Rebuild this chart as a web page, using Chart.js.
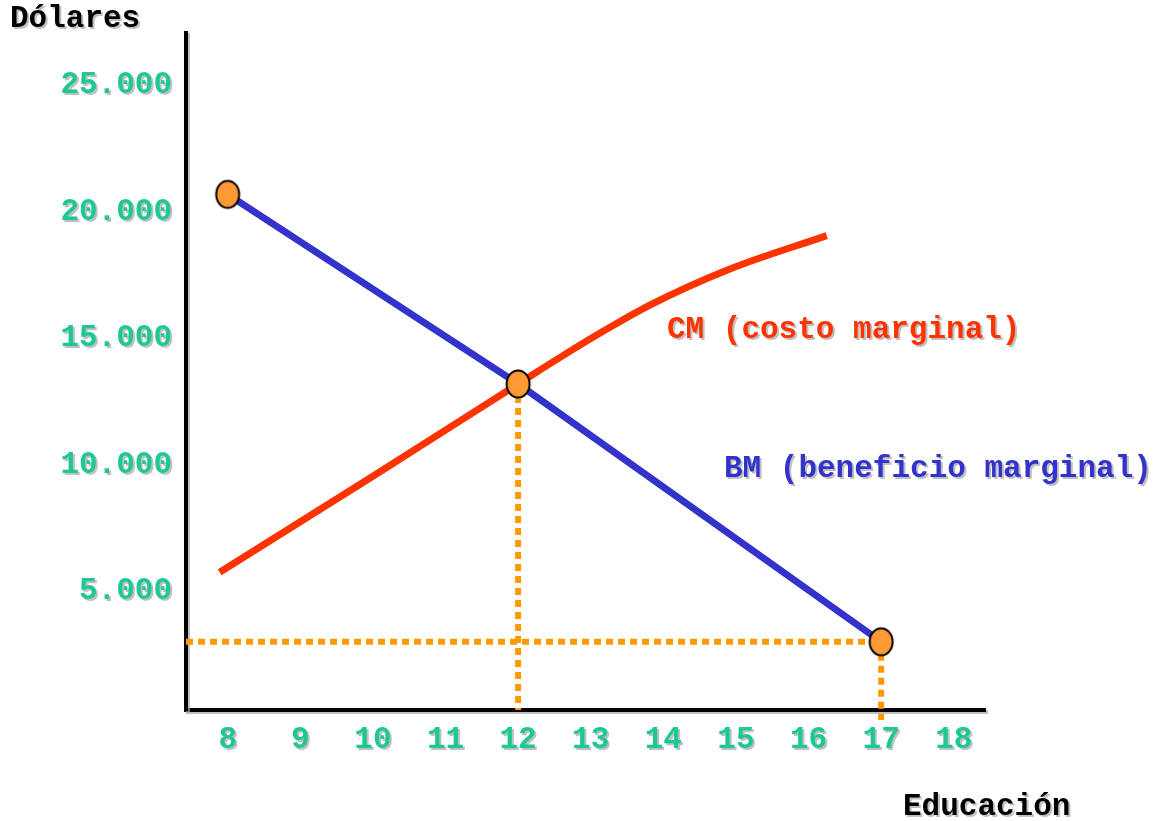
<!DOCTYPE html>
<html lang="es">
<head>
<meta charset="utf-8">
<title>Educación: costo y beneficio marginal</title>
<script src="https://cdn.jsdelivr.net/npm/chart.js@4.4.1/dist/chart.umd.min.js"></script>
<style>
  html, body { margin: 0; padding: 0; background: #ffffff; }
  #wrap { width: 1166px; height: 821px; }
</style>
</head>
<body>
<div id="wrap"><canvas id="chart" width="1166" height="821"></canvas></div>
<script>
// Años de educación y valores en dólares
const bmX = [8, 12, 17];                 // beneficio marginal (recta)
const bmY = [20700, 13200, 3000];
const cmX = [7.89, 10, 12, 12.6, 13.2, 13.8, 14.9, 16.25];   // costo marginal (curva)
const cmY = [5750, 9550, 13200, 14290, 15330, 16300, 17730, 19070];
const xTickValues = [8, 9, 10, 11, 12, 13, 14, 15, 16, 17, 18];
const yTickValues = [5000, 10000, 15000, 20000, 25000];
const yTickLabels = ['5.000', '10.000', '15.000', '20.000', '25.000'];

const xMin = 7.426, xMax = 18.43;
const yMin = 300, yMax = 27100;

const FONT = "'Liberation Mono', 'Courier New', monospace";
const GREEN = '#1DC894';
const RED = '#FF3300';
const BLUE = '#3333CC';
const ORANGE = '#FF9900';

// Equilibrio (intersección) y punto final del beneficio marginal
const eqX = bmX[1], eqY = bmY[1];
const endX = bmX[2], endY = bmY[2];

// Marcador ovalado naranja con borde negro
function makeMarker() {
  const c = document.createElement('canvas');
  c.width = 28; c.height = 32;
  const g = c.getContext('2d');
  g.beginPath();
  g.ellipse(14, 16, 11.5, 13.5, 0, 0, Math.PI * 2);
  g.fillStyle = '#FF9933';
  g.fill();
  g.lineWidth = 2;
  g.strokeStyle = '#000000';
  g.stroke();
  return c;
}
const marker = makeMarker();

const pts = (xs, ys) => xs.map((x, i) => ({ x: x, y: ys[i] }));

const dotted = {
  borderColor: ORANGE,
  borderWidth: 6,
  borderDash: [7, 5],
  borderCapStyle: 'butt',
  pointRadius: 0,
  showLine: true,
  fill: false,
  order: 3
};

// Sombra gris de los textos y ejes
function setShadow(ctx) {
  ctx.shadowColor = 'rgba(165,165,165,0.7)';
  ctx.shadowOffsetX = 2;
  ctx.shadowOffsetY = 2;
  ctx.shadowBlur = 0;
}
function clearShadow(ctx) {
  ctx.shadowColor = 'rgba(0,0,0,0)';
  ctx.shadowOffsetX = 0;
  ctx.shadowOffsetY = 0;
}

const textPlugin = {
  id: 'textos',
  beforeDraw(chart) { setShadow(chart.ctx); },
  beforeDatasetsDraw(chart) { clearShadow(chart.ctx); },
  afterDraw(chart) {
    const ctx = chart.ctx;
    ctx.save();
    setShadow(ctx);
    ctx.textBaseline = 'alphabetic';
    ctx.textAlign = 'left';
    ctx.font = 'bold 31px ' + FONT;
    ctx.fillStyle = '#000000';
    ctx.fillText('Dólares', 10, 27);
    ctx.fillText('Educación', 903, 815);
    ctx.fillStyle = RED;
    ctx.fillText('CM (costo marginal)', 667, 338);
    ctx.fillStyle = BLUE;
    ctx.fillText('BM (beneficio marginal)', 724, 477);
    ctx.restore();
  }
};

new Chart(document.getElementById('chart'), {
  type: 'scatter',
  data: {
    datasets: [
      {
        label: 'Marcadores',
        data: pts(bmX, bmY),
        showLine: false,
        pointStyle: marker,
        pointRadius: 14,
        order: 0
      },
      {
        label: 'BM (beneficio marginal)',
        data: pts(bmX, bmY),
        showLine: true,
        borderColor: BLUE,
        borderWidth: 7,
        pointRadius: 0,
        order: 1
      },
      {
        label: 'CM (costo marginal)',
        data: pts(cmX, cmY),
        showLine: true,
        borderColor: RED,
        borderWidth: 7,
        borderCapStyle: 'butt',
        cubicInterpolationMode: 'monotone',
        pointRadius: 0,
        order: 2
      },
      Object.assign({ label: 'h', data: [{ x: xMin, y: endY }, { x: endX, y: endY }] }, dotted),
      Object.assign({ label: 'v12', data: [{ x: eqX, y: eqY }, { x: eqX, y: yMin }] }, dotted),
      Object.assign({ label: 'v17', data: [{ x: endX, y: endY }, { x: endX, y: yMin - 400 }], clip: false }, dotted)
    ]
  },
  options: {
    responsive: false,
    animation: false,
    events: [],
    layout: { padding: { left: 0, top: 32, right: 181, bottom: 51 } },
    plugins: { legend: { display: false }, tooltip: { enabled: false } },
    scales: {
      x: {
        type: 'linear',
        min: xMin,
        max: xMax,
        afterFit(scale) { scale.height = 60; },
        afterBuildTicks(scale) { scale.ticks = xTickValues.map(v => ({ value: v })); },
        grid: { display: false, drawTicks: false },
        border: { display: true, color: '#000000', width: 4 },
        ticks: {
          color: GREEN,
          padding: 12,
          maxRotation: 0,
          autoSkip: false,
          font: { family: FONT, size: 31, weight: 'bold' },
          callback: (v) => String(v)
        }
      },
      y: {
        type: 'linear',
        min: yMin,
        max: yMax,
        afterFit(scale) { scale.width = 186; },
        afterBuildTicks(scale) { scale.ticks = yTickValues.map(v => ({ value: v })); },
        grid: { display: false, drawTicks: false },
        border: { display: true, color: '#000000', width: 4 },
        ticks: {
          color: GREEN,
          padding: 14,
          autoSkip: false,
          font: { family: FONT, size: 31, weight: 'bold' },
          callback: (v) => {
            const i = yTickValues.indexOf(v);
            return i >= 0 ? yTickLabels[i] : '';
          }
        }
      }
    }
  },
  plugins: [textPlugin]
});
</script>
</body>
</html>
